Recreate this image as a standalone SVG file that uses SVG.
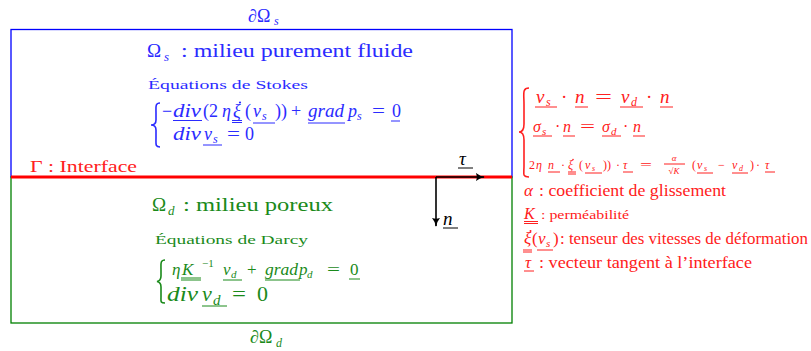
<svg xmlns="http://www.w3.org/2000/svg" width="811" height="351" viewBox="0 0 811 351">
<defs>
<marker id="ah" viewBox="0 0 10 10" refX="9" refY="5" markerWidth="9" markerHeight="9" orient="auto" markerUnits="userSpaceOnUse">
<path d="M0,0.5 Q4,4 10,5 Q4,6 0,9.5 Q2,5 0,0.5 Z" fill="#000"/>
</marker>
<style>
text{font-family:'Liberation Serif',serif}
.i{font-style:italic}
.ub{stroke:#2b2bff;stroke-width:1}
.ug{stroke:#1a8a1a;stroke-width:1}
.ur{stroke:#ff2020;stroke-width:1}
.uk{stroke:#000;stroke-width:1}
.br{fill:none;stroke-width:1.6}
.ar{stroke:#000;stroke-width:1.6}
</style>
</defs>
<rect width="811" height="351" fill="#fff"/>
<g id="omega_s" fill="#2b2bff">
<rect x="11" y="29.5" width="501" height="147.5" fill="none" stroke="#0000ff" stroke-width="1.3"/>
<text x="248" y="22" font-size="18">∂Ω</text>
<text x="274" y="25" font-size="12" class="i">s</text>
<text x="147" y="57" font-size="19">Ω</text>
<text x="164" y="61" font-size="13" class="i">s</text>
<text x="181" y="57" font-size="19" textLength="232" lengthAdjust="spacingAndGlyphs">: milieu purement fluide</text>
<text x="148" y="89" font-size="13" textLength="160" lengthAdjust="spacingAndGlyphs">Équations de Stokes</text>
<path class="br" stroke="#2b2bff" d="M160,103 C155,103 156,107 156,113 L156,120 C156,123 154,125 151,125 C154,125 156,127 156,130 L156,138 C156,144 155,147 160,147"/>
<g font-size="18">
<text x="162" y="117">−</text>
<text x="173" y="117" class="i" textLength="28" lengthAdjust="spacingAndGlyphs">div</text>
<text x="203" y="117">(2</text>
<text x="222" y="117" class="i">η</text>
<text x="233" y="117" class="i">ξ</text>
<text x="245" y="117">(</text>
<text x="253" y="117" class="i">v</text>
<text x="262" y="120" class="i" font-size="12">s</text>
<text x="275" y="117">))</text>
<text x="291" y="117">+</text>
<text x="308" y="117" class="i" textLength="36" lengthAdjust="spacingAndGlyphs">grad</text>
<text x="348" y="117" class="i">p</text>
<text x="357" y="120" class="i" font-size="12">s</text>
<text x="372" y="117" textLength="13" lengthAdjust="spacingAndGlyphs">=</text>
<text x="392" y="117">0</text>
<text x="173" y="140" class="i" textLength="28" lengthAdjust="spacingAndGlyphs">div</text>
<text x="204" y="140" class="i">v</text>
<text x="213" y="143" class="i" font-size="12">s</text>
<text x="227" y="140" textLength="13" lengthAdjust="spacingAndGlyphs">=</text>
<text x="245" y="140">0</text>
</g>
<circle cx="240" cy="102.5" r="1.1"/>
<path class="ub" d="M173,120.5 H202 M232,120.5 H242 M232,122.5 H242 M253,123 H275 M308,123 H345 M391,121 H400 M203,145 H222"/>
</g>
<g id="omega_d" fill="#1a8a1a">
<rect x="11" y="177" width="501" height="146" fill="none" stroke="#008000" stroke-width="1.3"/>
<text x="250" y="343" font-size="18">∂Ω</text>
<text x="276" y="347" font-size="12" class="i">d</text>
<text x="152" y="211" font-size="19">Ω</text>
<text x="168" y="215" font-size="13" class="i">d</text>
<text x="183" y="211" font-size="19" textLength="150" lengthAdjust="spacingAndGlyphs">: milieu poreux</text>
<text x="155" y="244" font-size="13" textLength="153" lengthAdjust="spacingAndGlyphs">Équations de Darcy</text>
<path class="br" stroke="#1a8a1a" d="M165,260 C160,260 161,264 161,270 L161,276 C161,279 160,281 157,281.5 C160,282 161,284 161,287 L161,297 C161,301 160,303 165,303"/>
<g font-size="17">
<text x="172" y="275" class="i">η</text>
<text x="182" y="275" class="i">K</text>
<text x="202" y="267" font-size="11">−1</text>
<text x="223" y="275" class="i">v</text>
<text x="231" y="278" class="i" font-size="11">d</text>
<text x="247" y="275">+</text>
<text x="265" y="275" class="i" textLength="33" lengthAdjust="spacingAndGlyphs">grad</text>
<text x="299" y="275" class="i">p</text>
<text x="307" y="278" class="i" font-size="11">d</text>
<text x="327" y="275" textLength="13" lengthAdjust="spacingAndGlyphs">=</text>
<text x="350" y="275">0</text>
</g>
<g font-size="22">
<text x="167" y="301" class="i" textLength="31" lengthAdjust="spacingAndGlyphs">div</text>
<text x="202" y="301" class="i">v</text>
<text x="213" y="305" class="i" font-size="15">d</text>
<text x="232" y="301" textLength="14" lengthAdjust="spacingAndGlyphs">=</text>
<text x="257" y="301">0</text>
</g>
<path class="ug" d="M181,278 H201 M181,280 H201 M223,280 H242 M265,280 H300 M349,279 H360 M202,306 H227"/>
</g>
<g id="interface">
<line x1="11" y1="177" x2="512" y2="177" stroke="#ff0000" stroke-width="3"/>
<text x="30" y="172" font-size="17" fill="#ff2020" textLength="107" lengthAdjust="spacingAndGlyphs">Γ : Interface</text>
<text x="459" y="165" font-size="19" class="i" fill="#000">τ</text>
<text x="443" y="225" font-size="19" class="i" fill="#000">n</text>
<path class="uk" d="M458,168 H473 M443,228 H458"/>
</g>
<g id="connectors">
<line class="ar" x1="436" y1="177" x2="484" y2="177" marker-end="url(#ah)"/>
<line class="ar" x1="436" y1="177" x2="436" y2="226" marker-end="url(#ah)"/>
</g>
<g id="conditions" fill="#ff2020">
<path class="br" stroke="#ff2020" stroke-width="2" d="M529,88 C522,88 524,94 524,104 L524,124 C524,129 522,132 519,132 C522,132 524,135 524,140 L524,166 C524,174 522,177 529,177"/>
<g font-size="19">
<text x="536" y="103" class="i">v</text>
<text x="546" y="106" class="i" font-size="12">s</text>
<text x="561" y="103">·</text>
<text x="575" y="103" class="i">n</text>
<text x="595" y="103" textLength="17" lengthAdjust="spacingAndGlyphs">=</text>
<text x="621" y="103" class="i">v</text>
<text x="631" y="106" class="i" font-size="12">d</text>
<text x="646" y="103">·</text>
<text x="660" y="103" class="i">n</text>
</g>
<g font-size="16">
<text x="533" y="132" class="i">σ</text>
<text x="542" y="135" class="i" font-size="11">s</text>
<text x="555" y="132">·</text>
<text x="563" y="132" class="i">n</text>
<text x="580" y="132" textLength="15" lengthAdjust="spacingAndGlyphs">=</text>
<text x="602" y="132" class="i">σ</text>
<text x="611" y="135" class="i" font-size="11">d</text>
<text x="623" y="132">·</text>
<text x="633" y="132" class="i">n</text>
</g>
<g font-size="12">
<text x="529" y="169">2</text>
<text x="536" y="169" class="i">η</text>
<text x="548" y="169" class="i">n</text>
<text x="561" y="169">·</text>
<text x="568" y="169" class="i">ξ</text>
<text x="579" y="169">(</text>
<text x="585" y="169" class="i">v</text>
<text x="592" y="171" class="i" font-size="8">s</text>
<text x="603" y="169">))</text>
<text x="616" y="169">·</text>
<text x="623" y="169" class="i">τ</text>
<text x="640" y="169" textLength="12" lengthAdjust="spacingAndGlyphs">=</text>
<text x="674" y="161" class="i" font-size="9" text-anchor="middle">α</text>
<text x="674" y="174" font-size="9" text-anchor="middle">√<tspan class="i">K</tspan></text>
<text x="692" y="169">(</text>
<text x="697" y="169" class="i">v</text>
<text x="704" y="171" class="i" font-size="8">s</text>
<text x="718" y="169">−</text>
<text x="732" y="169" class="i">v</text>
<text x="739" y="171" class="i" font-size="8">d</text>
<text x="750" y="169">)</text>
<text x="756" y="169">·</text>
<text x="765" y="169" class="i">τ</text>
</g>
<circle cx="573" cy="159.5" r="0.8"/>
<path class="ur" d="M535,107 H557 M575,107 H588 M620,107 H643 M660,107 H673 M533,136 H552 M563,136 H575 M602,136 H621 M633,136 H645 M548,172 H560 M568,172 H576 M568,174 H576 M585,173 H602 M623,172 H633 M664,164 H685 M697,173 H713 M732,173 H748 M765,172 H775"/>
</g>
<g id="legend" fill="#ff2020">
<g font-size="17">
<text x="524" y="196" class="i">α</text>
<text x="539" y="196" textLength="187" lengthAdjust="spacingAndGlyphs">: coefficient de glissement</text>
<text x="524" y="219" class="i" font-size="16">K</text>
<text x="541" y="219" font-size="13" textLength="88" lengthAdjust="spacingAndGlyphs">: perméabilité</text>
<text x="524" y="244" class="i">ξ</text>
<text x="532" y="244">(</text>
<text x="538" y="244" class="i">v</text>
<text x="546" y="247" class="i" font-size="11">s</text>
<text x="553" y="244">)</text>
<text x="560" y="244" textLength="248" lengthAdjust="spacingAndGlyphs">: tenseur des vitesses de déformation</text>
<text x="525" y="268" class="i">τ</text>
<text x="539" y="268" textLength="213" lengthAdjust="spacingAndGlyphs">: vecteur tangent à l’interface</text>
</g>
<circle cx="530.5" cy="231" r="1"/>
<path class="ur" d="M524,221.5 H538 M524,223.5 H538 M523,250 H532 M523,252 H532 M537,250 H553 M524,271 H534"/>
</g>
</svg>
